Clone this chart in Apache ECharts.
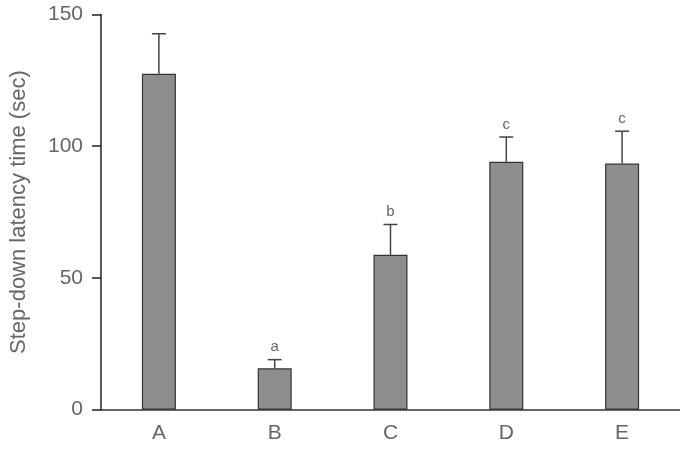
<!DOCTYPE html>
<html>
<head>
<meta charset="utf-8">
<script src="https://cdn.jsdelivr.net/npm/echarts@6/dist/echarts.min.js"></script>
<style>
  html, body { margin: 0; padding: 0; background: #fff; }
  #chart { width: 680px; height: 454px; }
</style>
</head>
<body>
<div id="chart"></div>
<script>
  // groups on x axis
  const groups = ['A', 'B', 'C', 'D', 'E']
  // mean latency (sec)
  const means = [127.5, 15.7, 58.8, 94.1, 93.4]
  // top of error bar (mean + SD)
  const errTops = [142.7, 19.0, 70.3, 103.5, 105.7]
  // significance letters over bars
  const marks = ['', 'a', 'b', 'c', 'c']
  const yTicks = [0, 50, 100, 150]

  const textColor = '#666'
  const font = 'Liberation Sans'

  const chart = echarts.init(document.getElementById('chart'))

  chart.setOption({
    animation: false,
    grid: {
      left: 97,
      right: -4,
      top: 14.5,
      bottom: 44.3
    },
    xAxis: {
      type: 'category',
      data: groups,
      axisLine: { lineStyle: { color: '#333', width: 1.5 } },
      axisTick: { length: 8, lineStyle: { color: '#333', width: 1.5 } },
      axisLabel: { margin: 13, color: textColor, fontSize: 21, fontFamily: font }
    },
    yAxis: {
      type: 'value',
      min: yTicks[0],
      max: yTicks[yTicks.length - 1],
      interval: 50,
      name: 'Step-down latency time (sec)',
      nameLocation: 'middle',
      nameGap: 71,
      nameTextStyle: { color: textColor, fontSize: 22, fontFamily: font },
      splitLine: { show: false },
      axisLine: { show: true, lineStyle: { color: '#222', width: 1.5 } },
      axisTick: { show: true, length: 9, lineStyle: { color: '#222', width: 1.5 } },
      axisLabel: { margin: 18, color: textColor, fontSize: 21, fontFamily: font }
    },
    series: [
      {
        type: 'bar',
        data: means,
        barWidth: 34,
        itemStyle: { color: '#8e8e8e', borderColor: '#333', borderWidth: 1.2 },
        z: 2
      },
      {
        type: 'custom',
        data: groups.map((g, i) => [i, means[i], errTops[i]]),
        z: 3,
        renderItem(params, api) {
          const base = api.coord([api.value(0), api.value(1)])
          const top = api.coord([api.value(0), api.value(2)])
          const half = 7
          const style = { stroke: '#444', lineWidth: 1.5 }
          const kids = [
            { type: 'line', shape: { x1: base[0], y1: base[1], x2: top[0], y2: top[1] }, style },
            { type: 'line', shape: { x1: top[0] - half, y1: top[1], x2: top[0] + half, y2: top[1] }, style }
          ]
          const m = marks[params.dataIndex]
          if (m) {
            kids.push({
              type: 'text',
              x: top[0],
              y: top[1] - 5,
              style: {
                text: m,
                fill: textColor,
                font: '15px ' + font,
                textAlign: 'center',
                textVerticalAlign: 'bottom'
              }
            })
          }
          return { type: 'group', children: kids }
        }
      }
    ]
  })
</script>
</body>
</html>
